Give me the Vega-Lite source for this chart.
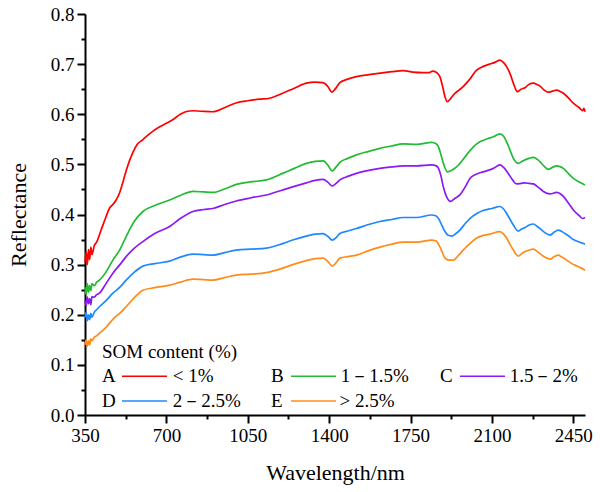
{
  "$schema": "https://vega.github.io/schema/vega-lite/v6.json",
  "width": 500,
  "height": 401,
  "autosize": "none",
  "padding": {"left": 85, "top": 14, "right": 15, "bottom": 77},
  "background": "white",
  "config": {
    "view": {"stroke": null},
    "font": "'Liberation Serif', 'DejaVu Serif', serif",
    "axis": {
      "grid": false,
      "domainColor": "black",
      "domainWidth": 2,
      "tickColor": "black",
      "tickWidth": 2,
      "tickSize": 8,
      "labelFont": "'Liberation Serif', 'DejaVu Serif', serif",
      "labelFontSize": 19,
      "labelColor": "black",
      "labelPadding": 3,
      "titleFont": "'Liberation Serif', 'DejaVu Serif', serif",
      "titleFontSize": 22,
      "titleFontWeight": "normal",
      "titleColor": "black"
    },
    "legend": {
      "titleFont": "'Liberation Serif', 'DejaVu Serif', serif",
      "titleFontSize": 19,
      "titleFontWeight": "normal",
      "titleColor": "black",
      "labelFont": "'Liberation Serif', 'DejaVu Serif', serif",
      "labelFontSize": 19,
      "labelColor": "black"
    }
  },
  "data": {"values": [
    {"w":350,"r":0.305,"s":"A"},{"w":355,"r":0.325,"s":"A"},{"w":360,"r":0.300,"s":"A"},{"w":365,"r":0.330,"s":"A"},{"w":370,"r":0.310,"s":"A"},{"w":375,"r":0.335,"s":"A"},{"w":380,"r":0.320,"s":"A"},{"w":390,"r":0.338,"s":"A"},{"w":400,"r":0.345,"s":"A"},{"w":420,"r":0.370,"s":"A"},{"w":440,"r":0.395,"s":"A"},{"w":456,"r":0.413,"s":"A"},{"w":470,"r":0.420,"s":"A"},{"w":484,"r":0.429,"s":"A"},{"w":500,"r":0.445,"s":"A"},{"w":512,"r":0.463,"s":"A"},{"w":530,"r":0.492,"s":"A"},{"w":555,"r":0.523,"s":"A"},{"w":575,"r":0.540,"s":"A"},{"w":598,"r":0.549,"s":"A"},{"w":630,"r":0.562,"s":"A"},{"w":671,"r":0.575,"s":"A"},{"w":700,"r":0.582,"s":"A"},{"w":727,"r":0.589,"s":"A"},{"w":760,"r":0.600,"s":"A"},{"w":790,"r":0.606,"s":"A"},{"w":813,"r":0.607,"s":"A"},{"w":850,"r":0.606,"s":"A"},{"w":899,"r":0.605,"s":"A"},{"w":950,"r":0.613,"s":"A"},{"w":1002,"r":0.623,"s":"A"},{"w":1050,"r":0.627,"s":"A"},{"w":1101,"r":0.630,"s":"A"},{"w":1144,"r":0.632,"s":"A"},{"w":1200,"r":0.642,"s":"A"},{"w":1250,"r":0.652,"s":"A"},{"w":1302,"r":0.662,"s":"A"},{"w":1340,"r":0.664,"s":"A"},{"w":1372,"r":0.663,"s":"A"},{"w":1395,"r":0.655,"s":"A"},{"w":1411,"r":0.644,"s":"A"},{"w":1425,"r":0.650,"s":"A"},{"w":1446,"r":0.663,"s":"A"},{"w":1480,"r":0.670,"s":"A"},{"w":1517,"r":0.675,"s":"A"},{"w":1570,"r":0.679,"s":"A"},{"w":1618,"r":0.682,"s":"A"},{"w":1670,"r":0.685,"s":"A"},{"w":1718,"r":0.687,"s":"A"},{"w":1760,"r":0.684,"s":"A"},{"w":1800,"r":0.683,"s":"A"},{"w":1826,"r":0.683,"s":"A"},{"w":1846,"r":0.686,"s":"A"},{"w":1865,"r":0.682,"s":"A"},{"w":1876,"r":0.675,"s":"A"},{"w":1888,"r":0.655,"s":"A"},{"w":1898,"r":0.635,"s":"A"},{"w":1908,"r":0.625,"s":"A"},{"w":1920,"r":0.630,"s":"A"},{"w":1933,"r":0.638,"s":"A"},{"w":1976,"r":0.655,"s":"A"},{"w":2005,"r":0.670,"s":"A"},{"w":2034,"r":0.688,"s":"A"},{"w":2060,"r":0.695,"s":"A"},{"w":2091,"r":0.700,"s":"A"},{"w":2115,"r":0.704,"s":"A"},{"w":2134,"r":0.708,"s":"A"},{"w":2150,"r":0.703,"s":"A"},{"w":2163,"r":0.695,"s":"A"},{"w":2180,"r":0.678,"s":"A"},{"w":2192,"r":0.662,"s":"A"},{"w":2209,"r":0.645,"s":"A"},{"w":2225,"r":0.650,"s":"A"},{"w":2242,"r":0.653,"s":"A"},{"w":2260,"r":0.660,"s":"A"},{"w":2278,"r":0.662,"s":"A"},{"w":2295,"r":0.659,"s":"A"},{"w":2307,"r":0.656,"s":"A"},{"w":2325,"r":0.648,"s":"A"},{"w":2342,"r":0.644,"s":"A"},{"w":2360,"r":0.646,"s":"A"},{"w":2378,"r":0.648,"s":"A"},{"w":2395,"r":0.645,"s":"A"},{"w":2407,"r":0.642,"s":"A"},{"w":2430,"r":0.632,"s":"A"},{"w":2450,"r":0.622,"s":"A"},{"w":2475,"r":0.613,"s":"A"},{"w":2490,"r":0.607,"s":"A"},{"w":2495,"r":0.612,"s":"A"},{"w":2500,"r":0.605,"s":"A"},

    {"w":350,"r":0.255,"s":"B"},{"w":355,"r":0.240,"s":"B"},{"w":360,"r":0.262,"s":"B"},{"w":365,"r":0.245,"s":"B"},{"w":370,"r":0.258,"s":"B"},{"w":375,"r":0.248,"s":"B"},{"w":380,"r":0.262,"s":"B"},{"w":390,"r":0.258,"s":"B"},{"w":400,"r":0.265,"s":"B"},{"w":412,"r":0.269,"s":"B"},{"w":440,"r":0.285,"s":"B"},{"w":470,"r":0.309,"s":"B"},{"w":500,"r":0.330,"s":"B"},{"w":527,"r":0.356,"s":"B"},{"w":560,"r":0.385,"s":"B"},{"w":599,"r":0.406,"s":"B"},{"w":650,"r":0.418,"s":"B"},{"w":714,"r":0.429,"s":"B"},{"w":760,"r":0.438,"s":"B"},{"w":814,"r":0.446,"s":"B"},{"w":860,"r":0.445,"s":"B"},{"w":900,"r":0.444,"s":"B"},{"w":950,"r":0.451,"s":"B"},{"w":1001,"r":0.460,"s":"B"},{"w":1060,"r":0.465,"s":"B"},{"w":1130,"r":0.469,"s":"B"},{"w":1200,"r":0.482,"s":"B"},{"w":1250,"r":0.492,"s":"B"},{"w":1302,"r":0.502,"s":"B"},{"w":1340,"r":0.506,"s":"B"},{"w":1374,"r":0.507,"s":"B"},{"w":1395,"r":0.498,"s":"B"},{"w":1413,"r":0.487,"s":"B"},{"w":1430,"r":0.495,"s":"B"},{"w":1446,"r":0.504,"s":"B"},{"w":1480,"r":0.512,"s":"B"},{"w":1517,"r":0.519,"s":"B"},{"w":1570,"r":0.526,"s":"B"},{"w":1618,"r":0.532,"s":"B"},{"w":1670,"r":0.537,"s":"B"},{"w":1718,"r":0.541,"s":"B"},{"w":1776,"r":0.540,"s":"B"},{"w":1841,"r":0.544,"s":"B"},{"w":1860,"r":0.541,"s":"B"},{"w":1870,"r":0.535,"s":"B"},{"w":1880,"r":0.520,"s":"B"},{"w":1891,"r":0.502,"s":"B"},{"w":1908,"r":0.485,"s":"B"},{"w":1925,"r":0.488,"s":"B"},{"w":1948,"r":0.495,"s":"B"},{"w":1991,"r":0.519,"s":"B"},{"w":2020,"r":0.535,"s":"B"},{"w":2048,"r":0.545,"s":"B"},{"w":2080,"r":0.551,"s":"B"},{"w":2106,"r":0.555,"s":"B"},{"w":2134,"r":0.561,"s":"B"},{"w":2150,"r":0.556,"s":"B"},{"w":2163,"r":0.545,"s":"B"},{"w":2178,"r":0.528,"s":"B"},{"w":2192,"r":0.512,"s":"B"},{"w":2213,"r":0.502,"s":"B"},{"w":2230,"r":0.506,"s":"B"},{"w":2242,"r":0.509,"s":"B"},{"w":2260,"r":0.512,"s":"B"},{"w":2278,"r":0.514,"s":"B"},{"w":2295,"r":0.510,"s":"B"},{"w":2307,"r":0.505,"s":"B"},{"w":2325,"r":0.496,"s":"B"},{"w":2342,"r":0.490,"s":"B"},{"w":2360,"r":0.494,"s":"B"},{"w":2378,"r":0.497,"s":"B"},{"w":2395,"r":0.495,"s":"B"},{"w":2407,"r":0.492,"s":"B"},{"w":2430,"r":0.481,"s":"B"},{"w":2450,"r":0.472,"s":"B"},{"w":2475,"r":0.465,"s":"B"},{"w":2500,"r":0.459,"s":"B"},

    {"w":350,"r":0.228,"s":"C"},{"w":355,"r":0.218,"s":"C"},{"w":360,"r":0.235,"s":"C"},{"w":365,"r":0.222,"s":"C"},{"w":370,"r":0.232,"s":"C"},{"w":375,"r":0.220,"s":"C"},{"w":380,"r":0.236,"s":"C"},{"w":390,"r":0.235,"s":"C"},{"w":400,"r":0.240,"s":"C"},{"w":412,"r":0.243,"s":"C"},{"w":440,"r":0.262,"s":"C"},{"w":470,"r":0.283,"s":"C"},{"w":500,"r":0.300,"s":"C"},{"w":527,"r":0.316,"s":"C"},{"w":560,"r":0.332,"s":"C"},{"w":599,"r":0.346,"s":"C"},{"w":650,"r":0.362,"s":"C"},{"w":714,"r":0.376,"s":"C"},{"w":760,"r":0.392,"s":"C"},{"w":814,"r":0.406,"s":"C"},{"w":860,"r":0.410,"s":"C"},{"w":900,"r":0.412,"s":"C"},{"w":950,"r":0.420,"s":"C"},{"w":1001,"r":0.427,"s":"C"},{"w":1060,"r":0.433,"s":"C"},{"w":1130,"r":0.439,"s":"C"},{"w":1200,"r":0.449,"s":"C"},{"w":1250,"r":0.456,"s":"C"},{"w":1302,"r":0.463,"s":"C"},{"w":1340,"r":0.468,"s":"C"},{"w":1374,"r":0.470,"s":"C"},{"w":1395,"r":0.464,"s":"C"},{"w":1413,"r":0.457,"s":"C"},{"w":1430,"r":0.462,"s":"C"},{"w":1446,"r":0.469,"s":"C"},{"w":1480,"r":0.476,"s":"C"},{"w":1517,"r":0.482,"s":"C"},{"w":1570,"r":0.488,"s":"C"},{"w":1618,"r":0.492,"s":"C"},{"w":1670,"r":0.495,"s":"C"},{"w":1718,"r":0.497,"s":"C"},{"w":1776,"r":0.497,"s":"C"},{"w":1841,"r":0.499,"s":"C"},{"w":1860,"r":0.497,"s":"C"},{"w":1870,"r":0.492,"s":"C"},{"w":1880,"r":0.478,"s":"C"},{"w":1891,"r":0.455,"s":"C"},{"w":1905,"r":0.435,"s":"C"},{"w":1922,"r":0.426,"s":"C"},{"w":1940,"r":0.432,"s":"C"},{"w":1962,"r":0.439,"s":"C"},{"w":1985,"r":0.455,"s":"C"},{"w":2005,"r":0.472,"s":"C"},{"w":2030,"r":0.480,"s":"C"},{"w":2062,"r":0.485,"s":"C"},{"w":2090,"r":0.489,"s":"C"},{"w":2106,"r":0.492,"s":"C"},{"w":2134,"r":0.499,"s":"C"},{"w":2150,"r":0.494,"s":"C"},{"w":2170,"r":0.482,"s":"C"},{"w":2190,"r":0.468,"s":"C"},{"w":2206,"r":0.461,"s":"C"},{"w":2225,"r":0.462,"s":"C"},{"w":2242,"r":0.463,"s":"C"},{"w":2260,"r":0.462,"s":"C"},{"w":2278,"r":0.461,"s":"C"},{"w":2300,"r":0.454,"s":"C"},{"w":2321,"r":0.446,"s":"C"},{"w":2350,"r":0.441,"s":"C"},{"w":2378,"r":0.444,"s":"C"},{"w":2395,"r":0.441,"s":"C"},{"w":2407,"r":0.436,"s":"C"},{"w":2430,"r":0.422,"s":"C"},{"w":2450,"r":0.409,"s":"C"},{"w":2475,"r":0.398,"s":"C"},{"w":2490,"r":0.392,"s":"C"},{"w":2500,"r":0.394,"s":"C"},

    {"w":350,"r":0.195,"s":"D"},{"w":355,"r":0.205,"s":"D"},{"w":360,"r":0.188,"s":"D"},{"w":365,"r":0.200,"s":"D"},{"w":370,"r":0.190,"s":"D"},{"w":375,"r":0.203,"s":"D"},{"w":380,"r":0.195,"s":"D"},{"w":390,"r":0.205,"s":"D"},{"w":400,"r":0.210,"s":"D"},{"w":412,"r":0.216,"s":"D"},{"w":440,"r":0.228,"s":"D"},{"w":470,"r":0.243,"s":"D"},{"w":500,"r":0.255,"s":"D"},{"w":527,"r":0.269,"s":"D"},{"w":560,"r":0.284,"s":"D"},{"w":599,"r":0.297,"s":"D"},{"w":650,"r":0.302,"s":"D"},{"w":714,"r":0.307,"s":"D"},{"w":760,"r":0.315,"s":"D"},{"w":814,"r":0.321,"s":"D"},{"w":860,"r":0.320,"s":"D"},{"w":900,"r":0.319,"s":"D"},{"w":950,"r":0.324,"s":"D"},{"w":1001,"r":0.329,"s":"D"},{"w":1060,"r":0.331,"s":"D"},{"w":1130,"r":0.333,"s":"D"},{"w":1200,"r":0.342,"s":"D"},{"w":1250,"r":0.350,"s":"D"},{"w":1302,"r":0.357,"s":"D"},{"w":1340,"r":0.361,"s":"D"},{"w":1374,"r":0.362,"s":"D"},{"w":1395,"r":0.356,"s":"D"},{"w":1413,"r":0.349,"s":"D"},{"w":1430,"r":0.354,"s":"D"},{"w":1446,"r":0.362,"s":"D"},{"w":1480,"r":0.367,"s":"D"},{"w":1517,"r":0.372,"s":"D"},{"w":1570,"r":0.380,"s":"D"},{"w":1618,"r":0.386,"s":"D"},{"w":1670,"r":0.390,"s":"D"},{"w":1718,"r":0.394,"s":"D"},{"w":1776,"r":0.394,"s":"D"},{"w":1841,"r":0.399,"s":"D"},{"w":1860,"r":0.397,"s":"D"},{"w":1870,"r":0.392,"s":"D"},{"w":1885,"r":0.378,"s":"D"},{"w":1898,"r":0.366,"s":"D"},{"w":1910,"r":0.359,"s":"D"},{"w":1927,"r":0.357,"s":"D"},{"w":1945,"r":0.362,"s":"D"},{"w":1962,"r":0.369,"s":"D"},{"w":1985,"r":0.382,"s":"D"},{"w":2005,"r":0.392,"s":"D"},{"w":2035,"r":0.402,"s":"D"},{"w":2062,"r":0.408,"s":"D"},{"w":2100,"r":0.412,"s":"D"},{"w":2134,"r":0.416,"s":"D"},{"w":2150,"r":0.411,"s":"D"},{"w":2163,"r":0.402,"s":"D"},{"w":2178,"r":0.390,"s":"D"},{"w":2192,"r":0.379,"s":"D"},{"w":2213,"r":0.367,"s":"D"},{"w":2228,"r":0.371,"s":"D"},{"w":2242,"r":0.374,"s":"D"},{"w":2260,"r":0.379,"s":"D"},{"w":2278,"r":0.381,"s":"D"},{"w":2295,"r":0.376,"s":"D"},{"w":2314,"r":0.369,"s":"D"},{"w":2330,"r":0.363,"s":"D"},{"w":2350,"r":0.359,"s":"D"},{"w":2368,"r":0.365,"s":"D"},{"w":2385,"r":0.369,"s":"D"},{"w":2400,"r":0.366,"s":"D"},{"w":2414,"r":0.362,"s":"D"},{"w":2430,"r":0.357,"s":"D"},{"w":2450,"r":0.350,"s":"D"},{"w":2475,"r":0.345,"s":"D"},{"w":2500,"r":0.341,"s":"D"},

    {"w":350,"r":0.140,"s":"E"},{"w":355,"r":0.150,"s":"E"},{"w":360,"r":0.137,"s":"E"},{"w":365,"r":0.148,"s":"E"},{"w":370,"r":0.140,"s":"E"},{"w":375,"r":0.152,"s":"E"},{"w":380,"r":0.148,"s":"E"},{"w":390,"r":0.155,"s":"E"},{"w":400,"r":0.158,"s":"E"},{"w":412,"r":0.163,"s":"E"},{"w":440,"r":0.175,"s":"E"},{"w":476,"r":0.194,"s":"E"},{"w":500,"r":0.203,"s":"E"},{"w":527,"r":0.216,"s":"E"},{"w":560,"r":0.233,"s":"E"},{"w":599,"r":0.249,"s":"E"},{"w":650,"r":0.254,"s":"E"},{"w":714,"r":0.259,"s":"E"},{"w":760,"r":0.265,"s":"E"},{"w":814,"r":0.271,"s":"E"},{"w":860,"r":0.270,"s":"E"},{"w":900,"r":0.269,"s":"E"},{"w":950,"r":0.274,"s":"E"},{"w":1001,"r":0.279,"s":"E"},{"w":1060,"r":0.281,"s":"E"},{"w":1130,"r":0.284,"s":"E"},{"w":1200,"r":0.293,"s":"E"},{"w":1250,"r":0.301,"s":"E"},{"w":1302,"r":0.308,"s":"E"},{"w":1340,"r":0.312,"s":"E"},{"w":1374,"r":0.313,"s":"E"},{"w":1395,"r":0.306,"s":"E"},{"w":1413,"r":0.297,"s":"E"},{"w":1430,"r":0.304,"s":"E"},{"w":1446,"r":0.313,"s":"E"},{"w":1480,"r":0.316,"s":"E"},{"w":1517,"r":0.319,"s":"E"},{"w":1570,"r":0.328,"s":"E"},{"w":1618,"r":0.335,"s":"E"},{"w":1670,"r":0.341,"s":"E"},{"w":1718,"r":0.345,"s":"E"},{"w":1776,"r":0.345,"s":"E"},{"w":1841,"r":0.349,"s":"E"},{"w":1860,"r":0.347,"s":"E"},{"w":1870,"r":0.341,"s":"E"},{"w":1885,"r":0.326,"s":"E"},{"w":1898,"r":0.313,"s":"E"},{"w":1915,"r":0.309,"s":"E"},{"w":1933,"r":0.309,"s":"E"},{"w":1955,"r":0.318,"s":"E"},{"w":1976,"r":0.329,"s":"E"},{"w":2005,"r":0.342,"s":"E"},{"w":2034,"r":0.353,"s":"E"},{"w":2060,"r":0.358,"s":"E"},{"w":2091,"r":0.361,"s":"E"},{"w":2134,"r":0.366,"s":"E"},{"w":2150,"r":0.361,"s":"E"},{"w":2163,"r":0.353,"s":"E"},{"w":2178,"r":0.340,"s":"E"},{"w":2192,"r":0.329,"s":"E"},{"w":2213,"r":0.317,"s":"E"},{"w":2228,"r":0.322,"s":"E"},{"w":2242,"r":0.326,"s":"E"},{"w":2260,"r":0.329,"s":"E"},{"w":2278,"r":0.331,"s":"E"},{"w":2295,"r":0.326,"s":"E"},{"w":2314,"r":0.319,"s":"E"},{"w":2330,"r":0.314,"s":"E"},{"w":2350,"r":0.311,"s":"E"},{"w":2368,"r":0.316,"s":"E"},{"w":2385,"r":0.319,"s":"E"},{"w":2400,"r":0.315,"s":"E"},{"w":2421,"r":0.309,"s":"E"},{"w":2440,"r":0.303,"s":"E"},{"w":2457,"r":0.299,"s":"E"},{"w":2480,"r":0.294,"s":"E"},{"w":2500,"r":0.289,"s":"E"}
  ]},
  "layer": [
    {
      "mark": {"type": "line", "strokeWidth": 1.7, "interpolate": "monotone"},
      "encoding": {
        "x": {
          "field": "w", "type": "quantitative",
          "scale": {"domain": [350, 2500], "nice": false, "zero": false},
          "axis": {"values": [350, 700, 1050, 1400, 1750, 2100, 2450], "format": "d", "title": "Wavelength/nm", "titlePadding": 17, "labelFlush": false}
        },
        "y": {
          "field": "r", "type": "quantitative",
          "scale": {"domain": [0, 0.8], "nice": false, "zero": true},
          "axis": {"values": [0, 0.1, 0.2, 0.3, 0.4, 0.5, 0.6, 0.7, 0.8], "format": ".1f", "title": "Reflectance", "titlePadding": 20, "labelFlush": false}
        },
        "color": {
          "field": "s", "type": "nominal",
          "scale": {"domain": ["A", "D", "B", "E", "C"], "range": ["#FF0000", "#1E88FF", "#22BB33", "#FF8C1A", "#8B1AF5"]},
          "legend": {
            "title": "SOM content (%)",
            "orient": "none",
            "legendX": 17,
            "legendY": 328.5,
            "columns": 3,
            "gridAlign": "all",
            "columnPadding": 30,
            "rowPadding": 5,
            "titlePadding": 5,
            "symbolType": "M-4,0H4",
            "symbolSize": 126.5,
            "symbolStrokeWidth": 1.7,
            "symbolFillColor": "transparent",
            "symbolOffset": 33,
            "labelOffset": -52,
            "labelLimit": 400,
            "labelExpr": "{'A': 'A\u2003\u2003\u2003< 1%', 'B': 'B\u2003\u2003\u20031\uff0d1.5%', 'C': 'C\u2003\u2003\u20031.5\uff0d2%', 'D': 'D\u2003\u2003\u20032\uff0d2.5%', 'E': 'E\u2003\u2003\u2003> 2.5%'}[datum.label]"
          }
        }
      }
    },
    {
      "mark": {"type": "line", "opacity": 0},
      "encoding": {
        "x": {
          "field": "w", "type": "quantitative",
          "scale": {"domain": [350, 2500], "nice": false, "zero": false},
          "axis": {"values": [525, 875, 1225, 1575, 1925, 2275], "orient": "bottom", "labels": false, "domain": false, "tickSize": 4, "title": null}
        },
        "y": {
          "field": "r", "type": "quantitative",
          "scale": {"domain": [0, 0.8], "nice": false},
          "axis": {"values": [0.05, 0.15, 0.25, 0.35, 0.45, 0.55, 0.65, 0.75], "orient": "left", "labels": false, "domain": false, "tickSize": 4, "title": null}
        },
        "detail": {"field": "s"}
      }
    }
  ],
  "resolve": {"axis": {"x": "independent", "y": "independent"}}
}
